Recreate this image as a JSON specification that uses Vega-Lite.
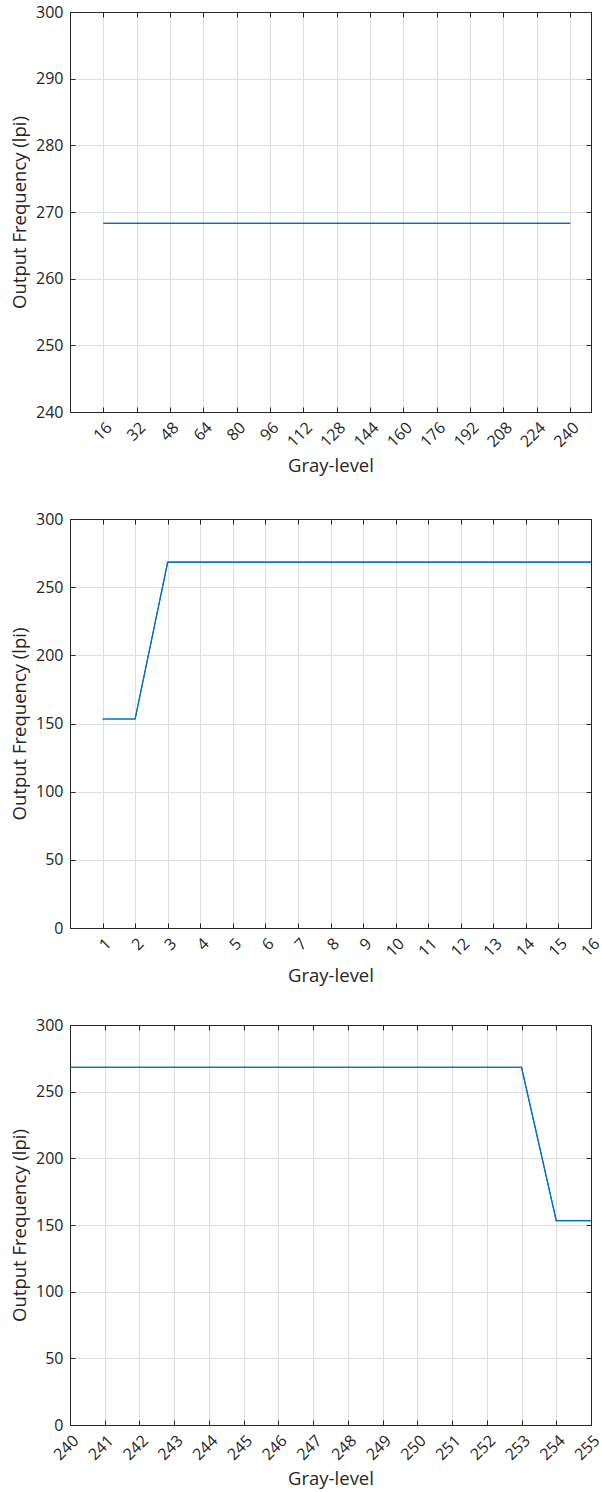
{
  "$schema": "https://vega.github.io/schema/vega-lite/v6.json",
  "padding": {"left": 10, "top": 3, "right": 0, "bottom": 0},
  "background": "white",
  "config": {
    "font": "Open Sans",
    "view": {"stroke": "#262626", "strokeWidth": 1},
    "axis": {
      "labelFont": "Open Sans", "labelFontSize": 16, "labelColor": "#262626",
      "titleFont": "Open Sans", "titleFontSize": 18.5, "titleFontWeight": "normal", "titleColor": "#262626",
      "domainColor": "#262626", "tickColor": "#262626", "gridColor": "#DEDEDE",
      "tickSize": -5, "labelPadding": 12
    },
    "axisY": {"titlePadding": 6},
    "axisX": {"titlePadding": 7}
  },
  "bounds": "flush",
  "spacing": 107,
  "vconcat": [
    {
      "width": 521, "height": 400,
      "data": {"values": [
        {"g": 16, "f": 268.3}, {"g": 32, "f": 268.3}, {"g": 48, "f": 268.3}, {"g": 64, "f": 268.3},
        {"g": 80, "f": 268.3}, {"g": 96, "f": 268.3}, {"g": 112, "f": 268.3}, {"g": 128, "f": 268.3},
        {"g": 144, "f": 268.3}, {"g": 160, "f": 268.3}, {"g": 176, "f": 268.3}, {"g": 192, "f": 268.3},
        {"g": 208, "f": 268.3}, {"g": 224, "f": 268.3}, {"g": 240, "f": 268.3}
      ]},
      "layer": [
        {
          "mark": {"type": "line", "color": "#0072BD", "strokeWidth": 1.2},
          "encoding": {
            "x": {"field": "g", "type": "quantitative", "scale": {"domain": [0, 250], "nice": false, "zero": false},
                  "axis": {"values": [16,32,48,64,80,96,112,128,144,160,176,192,208,224,240], "labelAngle": -45, "title": "Gray-level"}},
            "y": {"field": "f", "type": "quantitative", "scale": {"domain": [240, 300], "nice": false, "zero": false},
                  "axis": {"values": [240,250,260,270,280,290,300], "title": "Output Frequency (lpi)"}}
          }
        },
        {
          "mark": {"type": "line", "color": "#0072BD", "strokeWidth": 1.2},
          "encoding": {
            "x": {"field": "g", "type": "quantitative",
                  "axis": {"orient": "top", "values": [16,32,48,64,80,96,112,128,144,160,176,192,208,224,240], "labels": false, "title": null, "grid": false}},
            "y": {"field": "f", "type": "quantitative",
                  "axis": {"orient": "right", "values": [240,250,260,270,280,290,300], "labels": false, "title": null, "grid": false}}
          }
        }
      ],
      "resolve": {"axis": {"x": "independent", "y": "independent"}}
    },
    {
      "bounds": "flush",
      "spacing": 97,
      "vconcat": [
        {
          "width": 521, "height": 409,
          "data": {"values": [
            {"g": 1, "f": 153.3}, {"g": 2, "f": 153.3}, {"g": 3, "f": 268.3}, {"g": 4, "f": 268.3},
            {"g": 5, "f": 268.3}, {"g": 6, "f": 268.3}, {"g": 7, "f": 268.3}, {"g": 8, "f": 268.3},
            {"g": 9, "f": 268.3}, {"g": 10, "f": 268.3}, {"g": 11, "f": 268.3}, {"g": 12, "f": 268.3},
            {"g": 13, "f": 268.3}, {"g": 14, "f": 268.3}, {"g": 15, "f": 268.3}, {"g": 16, "f": 268.3}
          ]},
          "layer": [
            {
              "mark": {"type": "line", "color": "#0072BD", "strokeWidth": 1.2},
              "encoding": {
                "x": {"field": "g", "type": "quantitative", "scale": {"domain": [0, 16], "nice": false, "zero": false},
                      "axis": {"values": [1,2,3,4,5,6,7,8,9,10,11,12,13,14,15,16], "labelAngle": -45, "title": "Gray-level"}},
                "y": {"field": "f", "type": "quantitative", "scale": {"domain": [0, 300], "nice": false, "zero": false},
                      "axis": {"values": [0,50,100,150,200,250,300], "title": "Output Frequency (lpi)"}}
              }
            },
            {
              "mark": {"type": "line", "color": "#0072BD", "strokeWidth": 1.2},
              "encoding": {
                "x": {"field": "g", "type": "quantitative",
                      "axis": {"orient": "top", "values": [1,2,3,4,5,6,7,8,9,10,11,12,13,14,15,16], "labels": false, "title": null, "grid": false}},
                "y": {"field": "f", "type": "quantitative",
                      "axis": {"orient": "right", "values": [0,50,100,150,200,250,300], "labels": false, "title": null, "grid": false}}
              }
            }
          ],
          "resolve": {"axis": {"x": "independent", "y": "independent"}}
        },
        {
          "width": 521, "height": 400,
          "data": {"values": [
            {"g": 240, "f": 268.3}, {"g": 241, "f": 268.3}, {"g": 242, "f": 268.3}, {"g": 243, "f": 268.3},
            {"g": 244, "f": 268.3}, {"g": 245, "f": 268.3}, {"g": 246, "f": 268.3}, {"g": 247, "f": 268.3},
            {"g": 248, "f": 268.3}, {"g": 249, "f": 268.3}, {"g": 250, "f": 268.3}, {"g": 251, "f": 268.3},
            {"g": 252, "f": 268.3}, {"g": 253, "f": 268.3}, {"g": 254, "f": 153.3}, {"g": 255, "f": 153.3}
          ]},
          "layer": [
            {
              "mark": {"type": "line", "color": "#0072BD", "strokeWidth": 1.2},
              "encoding": {
                "x": {"field": "g", "type": "quantitative", "scale": {"domain": [240, 255], "nice": false, "zero": false},
                      "axis": {"values": [240,241,242,243,244,245,246,247,248,249,250,251,252,253,254,255], "labelAngle": -45, "title": "Gray-level"}},
                "y": {"field": "f", "type": "quantitative", "scale": {"domain": [0, 300], "nice": false, "zero": false},
                      "axis": {"values": [0,50,100,150,200,250,300], "title": "Output Frequency (lpi)"}}
              }
            },
            {
              "mark": {"type": "line", "color": "#0072BD", "strokeWidth": 1.2},
              "encoding": {
                "x": {"field": "g", "type": "quantitative",
                      "axis": {"orient": "top", "values": [240,241,242,243,244,245,246,247,248,249,250,251,252,253,254,255], "labels": false, "title": null, "grid": false}},
                "y": {"field": "f", "type": "quantitative",
                      "axis": {"orient": "right", "values": [0,50,100,150,200,250,300], "labels": false, "title": null, "grid": false}}
              }
            }
          ],
          "resolve": {"axis": {"x": "independent", "y": "independent"}}
        }
      ]
    }
  ]
}
